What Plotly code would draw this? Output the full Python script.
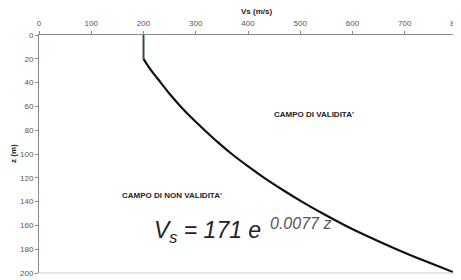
import plotly.graph_objects as go

# Depth (m) and shear-wave velocity (m/s)
z_top = [0, 20]
vs_top = [200, 200]

z_curve = [20, 30, 40, 50, 60, 70, 80, 90, 100, 110, 120, 130, 140, 150, 160, 170, 180, 190, 200]
vs_curve = [200, 215, 233, 251, 271, 293, 317, 342, 369, 399, 431, 466, 503, 543, 586, 633, 684, 739, 797]

x_ticks = [0, 100, 200, 300, 400, 500, 600, 700, 800]
y_ticks = [0, 20, 40, 60, 80, 100, 120, 140, 160, 180, 200]

fig = go.Figure()
fig.add_trace(go.Scatter(x=vs_top, y=z_top, mode="lines",
                         line=dict(color="#2a5550", width=2), showlegend=False))
fig.add_trace(go.Scatter(x=vs_curve, y=z_curve, mode="lines",
                         line=dict(color="#111111", width=2.2, shape="spline"), showlegend=False))

narrow = "Liberation Sans Narrow, Liberation Sans, Arial"
tickfont = dict(family=narrow, size=8, color="#555")

# page body has an 8px default margin, so the figure is sized to fit the window
fig.update_layout(
    width=453, height=272,
    margin=dict(l=31, r=4, t=27, b=7),
    paper_bgcolor="white", plot_bgcolor="white",
    xaxis=dict(range=[0, 800], side="top", tickvals=x_ticks, ticks="outside", ticklen=3,
               tickcolor="#888", linecolor="#888", linewidth=1, showgrid=False, zeroline=False,
               tickfont=tickfont, automargin=False, ticklabeloverflow="allow",
               ticklabelstandoff=2),
    yaxis=dict(range=[200, 0], tickvals=y_ticks, ticks="outside", ticklen=3,
               tickcolor="#888", linecolor="#888", linewidth=1, showgrid=False, zeroline=False,
               tickfont=tickfont, automargin=False, ticklabeloverflow="allow"),
    shapes=[
        dict(type="line", xref="paper", yref="paper", x0=1, x1=1, y0=0, y1=1,
             line=dict(color="#ccc", width=1)),
        dict(type="line", xref="paper", yref="paper", x0=0, x1=1, y0=0, y1=0,
             line=dict(color="#ccc", width=1)),
    ],
    annotations=[
        dict(xref="paper", yref="paper", x=0.52, y=1, yshift=23.5, yanchor="middle", xanchor="center",
             text="<b>Vs (m/s)</b>",
             showarrow=False, font=dict(family=narrow, size=8, color="#222")),
        dict(xref="paper", yref="paper", x=0, xshift=-26, y=0.5, xanchor="center", yanchor="middle",
             textangle=-90, text="<b>z (m)</b>",
             showarrow=False, font=dict(family=narrow, size=8, color="#222")),
        dict(x=527, y=67, text="<b>CAMPO DI VALIDITA'</b>", showarrow=False,
             font=dict(family=narrow, size=8, color="#222")),
        dict(x=254, y=134.5, text="<b>CAMPO DI NON VALIDITA'</b>", showarrow=False,
             font=dict(family=narrow, size=8, color="#222")),
        dict(x=216, y=165.5, xanchor="left", text="<i>V<sub>s</sub> = 171 e</i>", showarrow=False,
             font=dict(family="Liberation Sans, Arial", size=23, color="#222")),
        dict(x=501, y=158, text="<i>0.0077 z</i>", showarrow=False,
             font=dict(family="Liberation Sans, Arial", size=16, color="#555")),
    ],
)

fig.write_html("out.html")
